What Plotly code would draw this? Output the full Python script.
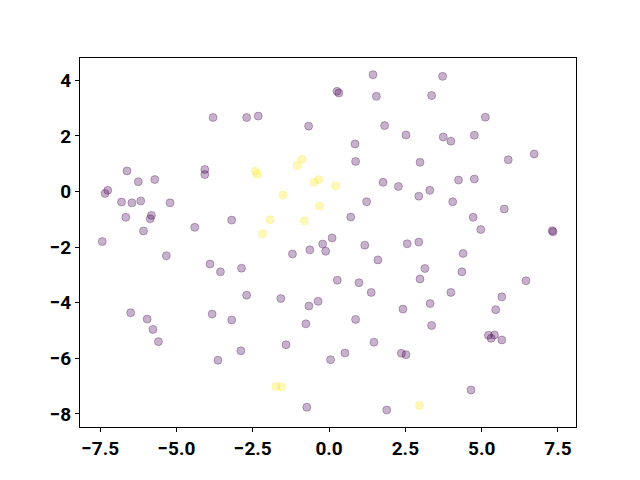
import plotly.graph_objects as go

# class 0 (purple) points
x0 = [-3.80, -2.70, -6.62, -6.25, -5.71, -7.25, -7.34, -6.80, -6.46, -6.17, -5.21, -4.07, -4.07,
      -6.66, -5.82, -5.86, -6.08, -4.40, -3.19, -7.43,
      1.44, 0.26, 0.32, 1.55, -2.32, -0.67, 1.82, 2.52, 0.85, 0.87, 1.77, 2.27, 1.23, 0.71,
      -0.21, 0.10, -0.63, -0.11, -1.20, 1.17, 1.60, 2.56, 2.94, -2.87, 0.27, 0.98, 1.38, -2.70,
      -1.58, -0.36, -0.66, 2.42, -0.76, 0.87, -1.41, 1.47, 0.52, 0.05, -2.89, 2.37, 2.52,
      -0.73, 1.89,
      4.39, 3.14, 4.35, 2.98, 6.45, 3.99, 5.66, 3.31, 5.46, 3.36, 5.22, 5.42, 5.31, 5.66, 4.65,
      -5.33, -3.90, -3.56, -6.50, -5.96, -5.77, -5.59, -3.83, -3.19, -3.64,
      3.72, 3.36, 5.12, 3.74, 3.99, 4.76, 6.72, 5.87, 2.98, 4.24, 4.76, 3.30, 2.94, 4.05, 5.74,
      4.72, 4.97, 7.31, 7.34]
y0 = [2.66, 2.66, 0.74, 0.35, 0.43, 0.04, -0.07, -0.38, -0.41, -0.34, -0.41, 0.79, 0.61,
      -0.93, -0.86, -0.98, -1.42, -1.29, -1.03, -1.80,
      4.20, 3.60, 3.54, 3.42, 2.71, 2.35, 2.37, 2.03, 1.71, 1.08, 0.33, 0.18, -0.37, -0.92,
      -1.89, -1.67, -2.10, -2.15, -2.25, -1.93, -2.46, -1.88, -1.82, -2.76, -3.19, -3.28, -3.63, -3.73,
      -3.85, -3.95, -4.12, -4.23, -4.76, -4.60, -5.51, -5.42, -5.81, -6.05, -5.73, -5.82, -5.87,
      -7.76, -7.86,
      -2.23, -2.77, -2.89, -3.15, -3.21, -3.63, -3.79, -4.03, -4.25, -4.82, -5.17, -5.16, -5.28, -5.34, -7.14,
      -2.31, -2.61, -2.89, -4.36, -4.59, -4.96, -5.40, -4.41, -4.62, -6.07,
      4.14, 3.45, 2.67, 1.96, 1.81, 2.02, 1.35, 1.14, 1.05, 0.41, 0.45, 0.04, -0.17, -0.37, -0.63,
      -0.93, -1.37, -1.41, -1.45]

# class 1 (yellow) points
x1 = [-0.88, -1.05, -2.42, -2.35, -0.34, -0.49, 0.22, -1.51, -0.31, -1.93, -0.81, -2.18, -1.74, -1.56, 2.96]
y1 = [1.16, 0.94, 0.73, 0.62, 0.43, 0.33, 0.20, -0.13, -0.52, -1.01, -1.06, -1.52, -7.01, -7.03, -7.70]

x_ticks = [-7.5, -5.0, -2.5, 0.0, 2.5, 5.0, 7.5]
y_ticks = [-8, -6, -4, -2, 0, 2, 4]

purple = "rgba(68,1,84,0.3)"
yellow = "rgba(253,231,37,0.3)"

fig = go.Figure()
fig.add_trace(go.Scatter(x=x0, y=y0, mode="markers",
                         marker=dict(size=8, color=purple, line=dict(color=purple, width=1))))
fig.add_trace(go.Scatter(x=x1, y=y1, mode="markers",
                         marker=dict(size=8, color=yellow, line=dict(color=yellow, width=1))))

font = dict(family="Roboto, sans-serif", size=19, color="black", weight="bold")
axis_common = dict(showgrid=False, zeroline=False, showline=True, linecolor="black", linewidth=1,
                   mirror=True, ticks="outside", ticklen=4, tickcolor="black", tickwidth=1,
                   tickfont=font, automargin=False)
fig.update_xaxes(range=[-8.16, 8.09], tickvals=x_ticks, tickformat=".1f", **axis_common)
fig.update_yaxes(range=[-8.47, 4.80], tickvals=y_ticks, **axis_common)
# page body has an 8px default margin, so offset the plot margins accordingly
fig.update_layout(width=640, height=480, showlegend=False,
                  plot_bgcolor="white", paper_bgcolor="white",
                  margin=dict(l=72, r=72, t=49.6, b=60.8),
                  font=dict(family="Roboto, sans-serif", size=19))
fig.write_html("out.html")
